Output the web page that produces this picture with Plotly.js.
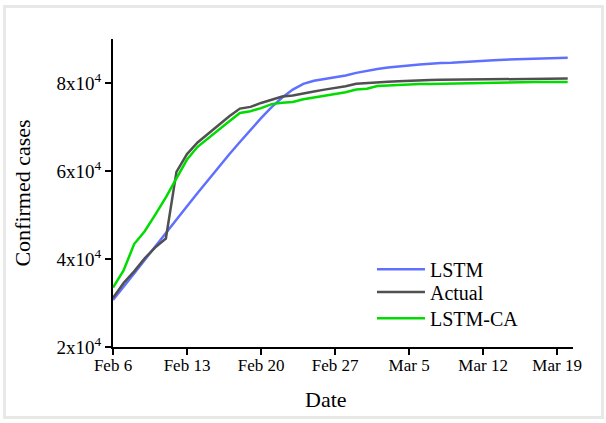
<!DOCTYPE html>
<html><head><meta charset="utf-8">
<script src="https://cdn.plot.ly/plotly-3.0.1.min.js"></script>
<style>
html,body{margin:0;padding:0;background:#fff;}
#chart{width:606px;height:423px;}
#frame{position:absolute;left:3px;top:5px;width:595px;height:408px;border:3px solid #e8e8e8;pointer-events:none;}
</style>
</head><body>
<div id="chart"></div><div id="frame"></div>
<script>
const dates = ['2020-02-06','2020-02-07','2020-02-08','2020-02-09','2020-02-10','2020-02-11','2020-02-12','2020-02-13','2020-02-14','2020-02-15','2020-02-16','2020-02-17','2020-02-18','2020-02-19','2020-02-20','2020-02-21','2020-02-22','2020-02-23','2020-02-24','2020-02-25','2020-02-26','2020-02-27','2020-02-28','2020-02-29','2020-03-01','2020-03-02','2020-03-03','2020-03-04','2020-03-05','2020-03-06','2020-03-07','2020-03-08','2020-03-09','2020-03-10','2020-03-11','2020-03-12','2020-03-13','2020-03-14','2020-03-15','2020-03-16','2020-03-17','2020-03-18','2020-03-19','2020-03-20'];
const lstm = [30700,33600,36700,39800,42900,46000,49000,52000,55000,58000,60900,63800,66600,69400,72000,74500,76700,78500,79800,80500,80900,81300,81700,82300,82800,83200,83500,83800,84000,84200,84400,84550,84600,84700,84850,85000,85150,85300,85400,85500,85600,85650,85700,85750];
const actual = [31161,34546,37198,40171,42638,44653,59804,63851,66492,68500,70548,72436,74185,74576,75465,76288,76936,77150,77658,78064,78497,78824,79251,79824,80026,80151,80270,80409,80552,80651,80695,80735,80754,80778,80793,80813,80824,80844,80860,80881,80894,80928,80967,81008];
const lstmCA = [33500,37400,43400,46300,50100,54000,58300,62600,65500,67500,69400,71300,73200,73600,74300,75200,75500,75700,76300,76700,77000,77400,77900,78500,78700,79300,79450,79550,79650,79750,79800,79850,79900,79950,79950,80050,80200,80250,80250,80250,80250,80250,80250,80250];
const xTickVals = ['2020-02-06','2020-02-13','2020-02-20','2020-02-27','2020-03-05','2020-03-12','2020-03-19'];
const xTickText = ['Feb 6','Feb 13','Feb 20','Feb 27','Mar 5','Mar 12','Mar 19'];
const yTickVals = [20000,40000,60000,80000];
const yTickText = ['2x10<sup>4</sup>','4x10<sup>4</sup>','6x10<sup>4</sup>','8x10<sup>4</sup>'];

const FONT = 'Liberation Serif, Times New Roman, serif';
const legFont = {family: FONT, size: 20, color: '#000'};
function leg(y) {
  return {x: 0.563, y: y, xanchor: 'left', yanchor: 'top', font: legFont, bgcolor: 'rgba(0,0,0,0)', itemwidth: 48};
}
const traces = [
  {x: dates, y: lstm, name: 'LSTM', type: 'scatter', mode: 'lines', line: {color: '#5F70FF', width: 2.5}, legend: 'legend'},
  {x: dates, y: actual, name: 'Actual', type: 'scatter', mode: 'lines', line: {color: '#505050', width: 2.5}, legend: 'legend2'},
  {x: dates, y: lstmCA, name: 'LSTM-CA', type: 'scatter', mode: 'lines', line: {color: '#00DC00', width: 2.5}, legend: 'legend3'}
];
const layout = {
  width: 606, height: 423,
  margin: {l: 113, r: 33, t: 39, b: 76, pad: 0},
  paper_bgcolor: '#fff', plot_bgcolor: '#fff',
  font: {family: FONT, color: '#000', size: 16},
  showlegend: true,
  legend: leg(0.316),
  legend2: leg(0.242),
  legend3: leg(0.157),
  xaxis: {
    type: 'date', range: ['2020-02-06', '2020-03-20 12:00'],
    tickmode: 'array', tickvals: xTickVals, ticktext: xTickText,
    showline: true, linecolor: '#000', linewidth: 2,
    ticks: 'outside', ticklen: 6, tickwidth: 2, tickcolor: '#000',
    showgrid: false, zeroline: false, ticklabelstandoff: -4,
    tickfont: {family: FONT, size: 17, color: '#000'}
  },
  yaxis: {
    range: [20000, 90000],
    tickmode: 'array', tickvals: yTickVals, ticktext: yTickText,
    showline: true, linecolor: '#000', linewidth: 2,
    ticks: 'outside', ticklen: 6, tickwidth: 2, tickcolor: '#000',
    showgrid: false, zeroline: false,
    tickfont: {family: FONT, size: 19, color: '#000'},
    title: {text: 'Confirmed cases', font: {family: FONT, size: 22, color: '#000'}, standoff: 20}
  },
  annotations: [
    {text: 'Date', xref: 'paper', yref: 'paper', x: (326 - 113) / 460, y: (346.7 - 399) / 308,
     xanchor: 'center', yanchor: 'middle', showarrow: false, font: {family: FONT, size: 22, color: '#000'}}
  ]
};
Plotly.newPlot('chart', traces, layout, {displayModeBar: false, staticPlot: true});
</script>
</body></html>
